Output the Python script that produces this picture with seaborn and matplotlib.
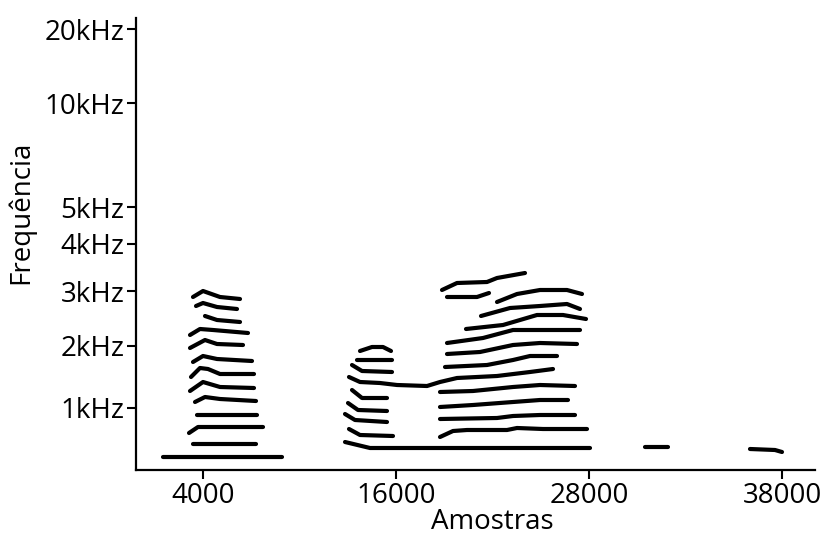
import matplotlib
matplotlib.use("Agg")
import matplotlib.pyplot as plt
import seaborn as sns
import pandas as pd

# Axis ticks: positions on the sample / frequency-bin axes and their labels
x_tick_pos = [4000, 16000, 28000, 40000]
x_tick_labels = ["4000", "16000", "28000", "38000"]
y_tick_pos = [62, 124, 179, 226, 263, 367, 441]
y_tick_labels = ["1kHz", "2kHz", "3kHz", "4kHz", "5kHz", "10kHz", "20kHz"]

# Harmonic tracks of the first voiced segment (samples, frequency bin)
tracks_seg1 = [
    ([3378, 4000, 5057, 6301], [173, 179, 173, 171]),
    ([3565, 4000, 4871, 6114], [164, 167, 163, 161]),
    ([4124, 4871, 6301], [154, 150, 148]),
    ([3192, 3813, 4622, 6798], [135, 141, 140, 137]),
    ([3192, 4124, 4871, 6487], [122, 130, 126, 125]),
    ([3378, 4000, 4871, 7047], [108, 114, 111, 109]),
    ([3254, 3813, 4311, 5057, 7171], [93, 102, 101, 96, 96]),
    ([3192, 4000, 5057, 7171], [79, 88, 83, 82]),
    ([3503, 4124, 5057, 7296], [68, 73, 71, 69]),
    ([3627, 7358], [55, 55]),
    ([3130, 3689, 7731], [37, 43, 43]),
    ([3378, 7296], [26, 26]),
    ([1513, 8912], [13, 13]),
]

# Second segment
tracks_seg2 = [
    ([13762, 14509, 15192, 15690], [119, 123, 123, 119]),
    ([13576, 15752], [110, 110]),
    ([13265, 13887, 15752], [105, 99, 98]),
    ([13078, 13762, 15006, 16063, 17929, 18737, 19793, 22281, 24333, 25763],
     [93, 88, 87, 85, 84, 88, 92, 94, 98, 101]),
    ([13265, 13887, 15441], [80, 72, 72]),
    ([13016, 13638, 15441], [67, 60, 59]),
    ([12830, 13451, 15441], [56, 50, 48]),
    ([13078, 13762, 15814], [41, 35, 34]),
    ([12830, 14384, 28064], [28, 22, 22]),
]

# Third segment
tracks_seg3 = [
    ([18861, 19793, 21659, 22281, 24022], [180, 187, 188, 192, 197]),
    ([19172, 21037, 21783], [173, 173, 177]),
    ([22281, 23525, 24955, 26633, 27566], [168, 176, 180, 180, 176]),
    ([21286, 23090, 24955, 26633, 27441], [154, 162, 164, 166, 161]),
    ([20353, 22654, 24768, 26385, 27815], [141, 145, 155, 155, 151]),
    ([19172, 21410, 23276, 27441], [127, 132, 140, 140]),
    ([19172, 21224, 23276, 24955, 27255], [116, 118, 125, 127, 126]),
    ([19048, 21659, 23276, 24333, 26012], [103, 105, 110, 114, 114]),
    ([18737, 20789, 23276, 24955, 27131], [78, 79, 83, 85, 84]),
    ([18737, 20789, 23276, 24955, 26695], [63, 65, 68, 70, 70]),
    ([18737, 22281, 23276, 24955, 27131], [51, 52, 54, 55, 55]),
    ([18737, 19545, 20416, 22903, 23525, 25141, 27877], [33, 39, 40, 40, 42, 41, 41]),
]

# Short isolated fragments near the end
tracks_tail = [
    ([31484, 32914], [23, 23]),
    ([38012, 39567, 40002], [21, 20, 18]),
]

rows = []
tid = 0
for group in (tracks_seg1, tracks_seg2, tracks_seg3, tracks_tail):
    for xs, ys in group:
        for i, (xv, yv) in enumerate(zip(xs, ys)):
            rows.append({"track": tid, "order": i, "amostra": xv, "bin": yv})
        tid += 1
df = pd.DataFrame(rows)

sns.set_style("white")
plt.rcParams["font.family"] = ["Open Sans", "DejaVu Sans"]

fig = plt.figure(figsize=(8.3, 5.34), dpi=100)
ax = fig.add_axes([136 / 830, 64 / 534, (815 - 136) / 830, (470 - 18) / 534])

sns.lineplot(
    data=df, x="amostra", y="bin", units="track", estimator=None, sort=False,
    color="black", linewidth=3.0, ax=ax, legend=False,
)
for line in ax.get_lines():
    line.set_solid_capstyle("round")
    line.set_solid_joinstyle("round")

ax.set_xlim(-166, 42054)
ax.set_ylim(0, 452)
ax.set_xticks(x_tick_pos)
ax.set_xticklabels(x_tick_labels)
ax.set_yticks(y_tick_pos)
ax.set_yticklabels(y_tick_labels)

sns.despine(ax=ax)
for side in ("left", "bottom"):
    ax.spines[side].set_color("black")
    ax.spines[side].set_linewidth(1.6)

ax.tick_params(axis="both", direction="out", length=6.5, width=1.5,
               color="black", labelsize=20, labelcolor="black", pad=2,
               left=True, bottom=True)

ax.set_xlabel("Amostras", fontsize=20, color="black")
ax.set_ylabel("Frequência", fontsize=20, color="black")
ax.xaxis.set_label_coords(0.525, -0.083)
ax.yaxis.set_label_coords(-0.148, 0.571)

fig.savefig("out.png", dpi=100)
